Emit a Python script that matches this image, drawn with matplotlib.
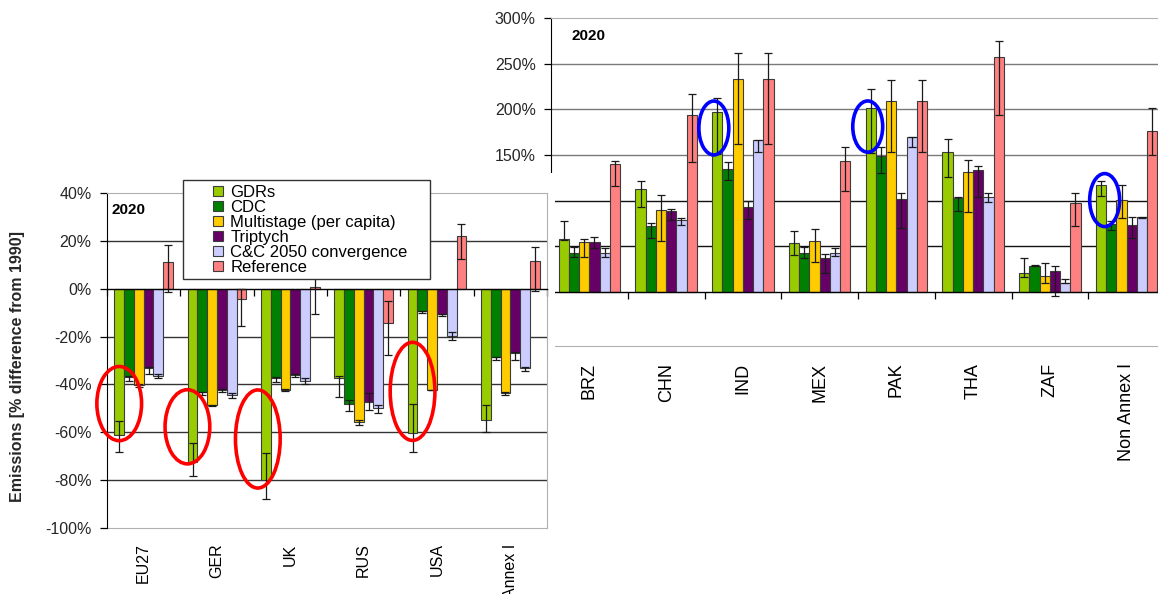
import numpy as np
import matplotlib.pyplot as plt
from matplotlib.patches import Ellipse, Rectangle

plt.rcParams['font.family'] = ['Liberation Sans', 'DejaVu Sans']

W, H = 1158, 594

series = ["GDRs", "CDC", "Multistage (per capita)", "Triptych",
          "C&C 2050 convergence", "Reference"]
colors = ["#99cc00", "#008000", "#ffcc00", "#660066", "#ccccff", "#ff8080"]

# ---- Annex I countries, 2020 (% change from 1990) ----
annex_regions = ["EU27", "GER", "UK", "RUS", "USA", "Annex I"]
annex_values = [
    [-61.0, -72.5, -80.0, -37.5, -60.5, -55.0],   # GDRs
    [-37.0, -43.0, -37.5, -48.2, -9.5, -28.5],    # CDC
    [-40.2, -48.7, -42.3, -55.8, -42.3, -43.6],   # Multistage
    [-33.0, -42.3, -36.0, -47.2, -10.6, -26.8],   # Triptych
    [-36.3, -44.4, -38.4, -50.0, -19.6, -33.2],   # C&C
    [11.2, -4.4, 0.8, -14.5, 22.0, 11.6],         # Reference
]
annex_low = [
    [-68.3, -78.3, -87.8, -45.3, -68.3, -59.7],
    [-38.7, -44.5, -39.0, -50.9, -10.2, -30.0],
    [-41.2, -49.2, -42.7, -57.0, -42.5, -44.6],
    [-35.6, -43.0, -37.0, -50.5, -11.5, -29.8],
    [-37.5, -45.5, -40.0, -51.9, -21.3, -34.2],
    [-1.4, -15.7, -10.5, -27.7, 12.6, -1.0],
]
annex_high = [
    [-55.1, -64.4, -68.7, -36.3, -48.1, -48.6],
    [-36.5, -43.0, -37.0, -46.7, -9.3, -28.5],
    [-40.0, -48.5, -42.1, -55.0, -42.2, -43.3],
    [-32.8, -42.0, -35.8, -43.7, -10.5, -26.5],
    [-35.8, -43.5, -37.5, -48.8, -18.0, -32.8],
    [18.1, 0.0, 4.5, -5.0, 27.2, 17.4],
]

# ---- Non-Annex I countries, 2020 ----
nonannex_regions = ["BRZ", "CHN", "IND", "MEX", "PAK", "THA", "ZAF", "Non Annex I"]
nonannex_values = [
    [57.7, 112.4, 197.4, 54.0, 201.1, 153.0, 21.2, 116.8],
    [43.0, 72.3, 134.3, 43.0, 148.9, 102.6, 28.8, 74.5],
    [55.0, 89.8, 233.6, 56.2, 209.1, 131.7, 17.5, 100.7],
    [55.0, 88.7, 93.4, 37.2, 101.5, 133.2, 23.3, 73.4],
    [42.3, 78.8, 166.0, 43.0, 169.4, 103.7, 10.2, 81.8],
    [140.2, 193.8, 233.6, 143.4, 209.1, 257.0, 97.1, 176.3],
]
nonannex_low = [
    [57.0, 92.7, 151.1, 40.9, 151.9, 126.3, 16.1, 105.1],
    [38.7, 58.8, 122.3, 36.9, 130.0, 88.7, 28.2, 67.9],
    [38.7, 56.2, 162.0, 32.5, 153.0, 87.9, 9.5, 80.7],
    [47.8, 78.8, 80.0, 21.2, 69.7, 104.4, -4.4, 58.8],
    [38.7, 73.4, 153.3, 39.4, 159.0, 98.2, 9.5, 80.7],
    [116.0, 142.0, 162.0, 111.0, 153.0, 193.8, 72.3, 150.0],
]
nonannex_high = [
    [78.0, 121.5, 212.0, 66.8, 222.0, 167.2, 37.6, 121.9],
    [49.6, 75.2, 142.0, 49.6, 159.0, 103.7, 29.5, 78.0],
    [57.7, 106.2, 262.0, 69.0, 232.0, 144.5, 31.4, 116.8],
    [60.6, 91.2, 99.3, 41.6, 108.7, 138.0, 28.8, 81.8],
    [47.8, 81.4, 167.0, 47.8, 169.4, 108.0, 13.9, 82.5],
    [143.8, 217.0, 262.0, 159.1, 232.0, 274.5, 108.0, 201.1],
]

# highlighted GDR bars: (category, x shift, centre %, height %)
annex_rings = [(0, 0.0, -48.0, 31.0), (1, -0.07, -57.7, 31.0),
               (2, -0.11, -62.8, 41.0), (4, 0.0, -42.9, 41.0)]
nonannex_rings = [(2, -0.045, 179.6, 59.0), (4, -0.04, 181.2, 56.0),
                  (7, 0.047, 100.7, 58.0)]


def px_box(x0, y0, x1, y1):
    # pixel box (top-left origin) -> figure fraction rect
    return [x0 / W, 1 - y1 / H, (x1 - x0) / W, (y1 - y0) / H]


def draw_bars(ax, regions, values, lows, highs):
    x = np.arange(len(regions))
    width = 0.8 / len(series)
    positions = []
    for i, (name, color) in enumerate(zip(series, colors)):
        pos = x - 0.4 + width * (i + 0.5)
        positions.append(pos)
        vals = np.array(values[i])
        yerr = [vals - np.array(lows[i]), np.array(highs[i]) - vals]
        ax.bar(pos, vals, width, color=color, edgecolor='#3c3c3c',
               linewidth=0.8, label=name, zorder=2)
        ax.errorbar(pos, vals, yerr=yerr, fmt='none', ecolor='#1a1a1a',
                    elinewidth=0.9, capsize=3, capthick=0.9, zorder=3)
    return positions[0]


def style_axes(ax, regions, ylim, yticks, label_size, label_pad):
    n = len(regions)
    ax.set_xlim(-0.5, n - 0.5)
    ax.set_ylim(*ylim)
    ax.set_yticks(yticks)
    ax.yaxis.set_major_formatter(lambda v, p: f"{v:.0f}%")
    ax.tick_params(axis='y', length=5, width=0.9, pad=6, labelsize=11.5,
                   labelcolor='#262626')
    # category axis crosses at 0 with ticks between the groups
    ax.spines['bottom'].set_position(('data', 0))
    ax.spines['bottom'].set_linewidth(1.0)
    ax.set_xticks(np.arange(n + 1) - 0.5)
    ax.tick_params(axis='x', length=5, width=0.9, labelbottom=False)
    sec = ax.secondary_xaxis('bottom')
    sec.set_xticks(np.arange(n), regions, rotation=90)
    sec.tick_params(length=0, pad=label_pad, labelsize=label_size)
    sec.spines['bottom'].set_color('#b0b0b0')
    ax.spines['top'].set_color('#b0b0b0')
    ax.spines['right'].set_color('#b0b0b0')
    ax.yaxis.grid(True, linewidth=1.0)
    ax.set_axisbelow(True)
    for tick, line in zip(yticks, ax.get_ygridlines()):
        if tick in (0, ylim[0], ylim[1]):
            line.set_visible(False)
    return sec


def draw_rings(ax, gdr_pos, rings, color, width):
    for cat, dx, yc, h in rings:
        ax.add_patch(Ellipse((gdr_pos[cat] + dx, yc), width, h, fill=False,
                             edgecolor=color, linewidth=2.6, zorder=6,
                             clip_on=False))


fig = plt.figure(figsize=(W / 100, H / 100), dpi=100)

# right chart (sits behind the left one)
ax_r = fig.add_axes(px_box(551, 18, 1165, 346), zorder=0)
gdr_r = draw_bars(ax_r, nonannex_regions, nonannex_values, nonannex_low, nonannex_high)
style_axes(ax_r, nonannex_regions, (-59, 300), list(range(0, 301, 50)), 13, 12)
for tick, line in zip(range(0, 301, 50), ax_r.get_ygridlines()):
    line.set_color('#7a7a7a' if tick > 125 else '#111111')
ax_r.spines['right'].set_visible(False)
ax_r.text(0.034, 0.945, "2020", transform=ax_r.transAxes, fontsize=11,
          fontweight='bold', va='center')
draw_rings(ax_r, gdr_r, nonannex_rings, '#0000ff', 0.39)

# white chart area of the left chart
fig.add_artist(Rectangle((0, 0), 555 / W, 1 - 173 / H, transform=fig.transFigure,
                         facecolor='white', edgecolor='none', zorder=1))

# left chart
ax_l = fig.add_axes(px_box(107, 193, 547, 528), zorder=2)
gdr_l = draw_bars(ax_l, annex_regions, annex_values, annex_low, annex_high)
style_axes(ax_l, annex_regions, (-100, 40), list(range(-100, 41, 20)), 11.5, 11)
for line in ax_l.get_ygridlines():
    line.set_color('#333333')
ax_l.set_ylabel("Emissions [% difference from 1990]", fontsize=11.5,
                fontweight='bold', color='#262626')
ax_l.yaxis.set_label_coords((25 - 107) / 440, (528 - 367) / 335)
ax_l.text(0.011, 0.949, "2020", transform=ax_l.transAxes, fontsize=11,
          fontweight='bold', va='center')
draw_rings(ax_l, gdr_l, annex_rings, '#ff0000', 0.61)

# legend with its own boxed frame
frame = Rectangle((183 / W, 1 - 279 / H), (430 - 183) / W, (279 - 180) / H,
                  transform=fig.transFigure, facecolor='white',
                  edgecolor='#333333', linewidth=1.0, zorder=4, clip_on=False)
ax_l.add_artist(frame)
leg = ax_l.legend(loc='upper left', bbox_to_anchor=(213 / W, 1 - 185 / H),
                  bbox_transform=fig.transFigure, frameon=False, fontsize=12,
                  borderpad=0, borderaxespad=0, handlelength=0.6,
                  handleheight=0.6, handletextpad=0.45, labelspacing=0.0)
leg.set_zorder(5)

fig.savefig("out.png", dpi=100)
